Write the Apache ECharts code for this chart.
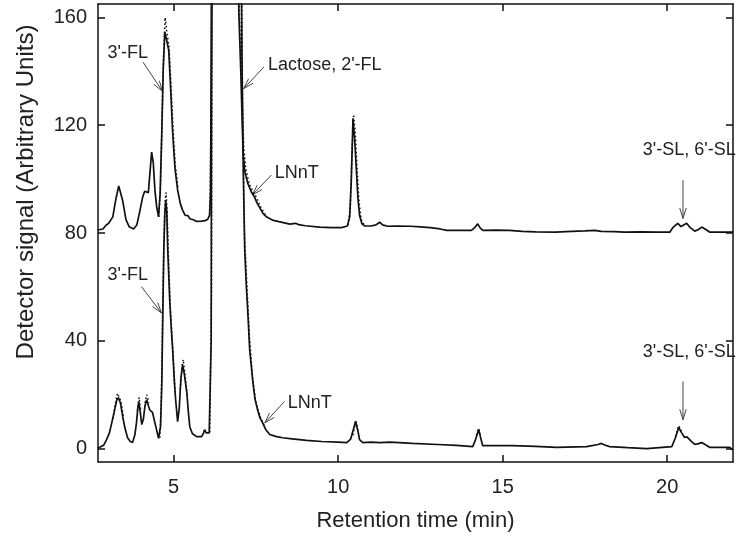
<!DOCTYPE html>
<html>
<head>
<meta charset="utf-8">
<script src="https://cdn.jsdelivr.net/npm/echarts@6/dist/echarts.min.js"></script>
<style>
  html, body { margin: 0; padding: 0; background: #fff; }
  #chart { width: 739px; height: 545px; }
</style>
</head>
<body>
<div id="chart"></div>
<script>
// retention time (min) / detector signal, upper trace (offset sample)
const upperTime = [2.69, 2.85, 2.95, 3.02, 3.08, 3.15, 3.25, 3.33, 3.38, 3.45, 3.55, 3.65, 3.78, 3.88, 3.97,
  4.06, 4.12, 4.18, 4.23, 4.27, 4.33, 4.38, 4.43, 4.48, 4.54, 4.59, 4.64, 4.68, 4.73, 4.78, 4.85, 4.91, 4.97,
  5.04, 5.12, 5.2, 5.27, 5.35, 5.43, 5.5, 5.58, 5.7, 5.85, 5.95, 6.03, 6.09, 6.12, 6.14, 6.16, 6.95, 6.98,
  7.04, 7.08, 7.11, 7.16, 7.25, 7.37, 7.45, 7.52, 7.61, 7.72, 7.83, 8.0, 8.2, 8.53, 8.7, 8.8, 9.0, 9.44, 9.8,
  10.1, 10.28, 10.35, 10.4, 10.45, 10.5, 10.55, 10.6, 10.65, 10.72, 10.8, 11.0, 11.15, 11.26, 11.35, 11.5,
  11.8, 12.2, 12.5, 12.8, 13.1, 13.3, 13.7, 14.05, 14.15, 14.24, 14.32, 14.4, 14.8, 15.2, 15.6, 16.0, 16.6,
  17.1, 17.5, 17.8, 18.0, 18.4, 18.7, 19.2, 19.7, 20.08, 20.17, 20.32, 20.42, 20.47, 20.59, 20.7, 20.84,
  20.95, 21.05, 21.15, 21.3, 21.6, 22.0];
const upperSignal = [81.1, 81.5, 83, 83.5, 83, 86, 93, 97.5, 97.5, 92, 85, 82.3, 81.5, 83, 88,
  93.5, 95.5, 96, 95, 101, 110, 106, 96, 90, 86, 95, 118, 140, 154.6, 152, 147.8, 133, 117,
  104, 96, 91, 88.5, 86.5, 86.5, 85.2, 85, 84.3, 84.4, 84.6, 85, 86.5, 95, 140, 200, 200, 162,
  140, 122, 110, 103, 98.5, 95, 93.5, 91.5, 89.5, 87.2, 85.9, 84.8, 84.2, 83.3, 83.6, 83.1, 82.7, 82.2, 82,
  82, 82.6, 86, 100, 122.6, 115, 104, 93, 86.5, 83.5, 82.6, 82.6, 83, 84, 83, 82.5,
  82.6, 82.5, 82.3, 82, 81.5, 81, 81, 81, 82, 83.4, 81.8, 81, 81.1, 81, 80.6, 80.4, 80.3,
  80.6, 80.8, 81, 80.6, 80.5, 80.3, 80.4, 80.3, 80.3, 82, 83.6, 82.4, 82.2, 83.6, 82, 80.7,
  81.3, 82.2, 81.5, 80.3, 80.3, 80.3];

// second run of the upper sample (dotted), only where it parts from the first; null = gap
const upperRepTime = [4.55, 4.6, 4.65, 4.69, 4.74, 4.79, 4.86, 4.92, 4.98, 5.05, 5.13, 5.14,
  6.1, 6.14, 6.17, 6.5, 6.96, 6.99, 7.05, 7.09, 7.13, 7.19, 7.28, 7.4, 7.5, 7.65, 7.8, 7.81,
  10.3, 10.37, 10.42, 10.47, 10.52, 10.57, 10.63, 10.7, 10.8];
const upperRepSignal = [86, 98, 122, 145, 160, 155, 149, 135, 119, 105, 97, null,
  87, 125, 200, null, 200, 165, 142, 125, 112, 104, 99, 95.5, 93.5, 89.5, 86.5, null,
  83, 90, 110, 124, 117, 105, 92, 85, 82.8];

// lower trace
const lowerTime = [2.69, 2.75, 2.8, 2.87, 2.96, 3.04, 3.12, 3.2, 3.27, 3.32, 3.38, 3.45, 3.52, 3.6, 3.68,
  3.75, 3.82, 3.87, 3.91, 3.94, 3.98, 4.03, 4.08, 4.13, 4.18, 4.23, 4.27, 4.32, 4.36, 4.42, 4.48, 4.54,
  4.57, 4.6, 4.64, 4.67, 4.7, 4.73, 4.76, 4.79, 4.82, 4.88, 4.93, 4.97, 5.02, 5.06, 5.12, 5.17, 5.22,
  5.27, 5.32, 5.4, 5.45, 5.49, 5.57, 5.7, 5.85, 5.9, 5.94, 5.99, 6.03, 6.08, 6.12, 6.14, 6.16, 7.04,
  7.08, 7.12, 7.16, 7.21, 7.26, 7.31, 7.41, 7.47, 7.55, 7.62, 7.7, 7.8, 7.92, 8.1, 8.31, 8.6, 9.04, 9.5,
  10.0, 10.26, 10.38, 10.46, 10.53, 10.6, 10.65, 10.75, 11.0, 11.26, 11.57, 12.26, 13.02, 13.6, 14.09,
  14.18, 14.27, 14.33, 14.39, 15.3, 16.0, 16.64, 17.55, 17.9, 18.0, 18.1, 18.25, 18.8, 19.38, 20.14,
  20.25, 20.35, 20.43, 20.53, 20.6, 20.65, 20.75, 20.84, 20.95, 21.05, 21.15, 21.3, 21.9, 22.0];
const lowerSignal = [0, -0.3, 0.8, 1.2, 3.3, 5.5, 9.6, 14, 18, 18.9, 17, 11.9, 7.5, 4, 2.6,
  2.2, 5, 9.6, 15, 17.4, 14, 8.9, 11, 16, 18.1, 16, 14.4, 14.5, 13.3, 10, 7, 3.8,
  3.3, 8, 24.4, 50.3, 73.7, 87, 92.2, 88, 73.7, 55, 44, 36.7, 25, 18.1, 10, 15, 26,
  31.1, 28, 20.7, 13, 8.1, 5.5, 4.4, 4.4, 5.5, 7, 5.8, 5.2, 5.8, 6.3, 40, 200, 200,
  140, 100, 73.7, 60, 49, 36.7, 24.4, 18.5, 14.4, 11.5, 9.6, 7, 5.2, 4.5, 4, 3.6, 3, 2.6,
  2.4, 2.2, 3.5, 7, 10, 6.5, 3.3, 2.2, 2.4, 2.2, 2.4, 1.9, 1.5, 1.2, 0.7,
  3.5, 7, 4, 1.1, 1.1, 0.8, 0.4, 0.7, 1.5, 1.9, 1.3, 0.7, 0.3, 0, 0.7,
  4, 7.8, 6, 4.1, 4.3, 4.1, 2.5, 1.5, 1.8, 2.2, 1.5, 0.4, 0.4, -0.5];

// second run of the lower sample (dotted)
const lowerRepTime = [3.15, 3.22, 3.29, 3.34, 3.4, 3.47, 3.48,
  3.9, 3.95, 4.0, 4.01, 4.13, 4.18, 4.25, 4.26,
  4.58, 4.62, 4.66, 4.7, 4.74, 4.77, 4.8, 4.84, 4.9, 4.98, 5.05, 5.06,
  5.2, 5.26, 5.29, 5.34, 5.42, 5.43,
  6.1, 6.15, 6.17, 6.5, 7.05, 7.1, 7.15, 7.22, 7.3, 7.4, 7.5, 7.62, 7.75, 7.76,
  10.45, 10.53, 10.6, 10.61, 14.2, 14.27, 14.33, 14.34, 20.25, 20.35, 20.43];
const lowerRepSignal = [11, 16, 20.5, 20.7, 17.5, 12, null,
  14, 19, 14, null, 17, 20, 17, null,
  4, 15, 45, 75, 92, 95, 88, 72, 52, 35, 20, null,
  22, 31, 33, 28, 19, null,
  6, 60, 200, null, 200, 120, 80, 62, 42, 26, 17, 12, 8.5, null,
  5, 10.5, 7, null, 5, 7.5, 4.5, null, 4.5, 8.5, 6.5];

const xTicks = [5, 10, 15, 20];
const yTicks = [0, 40, 80, 120, 160];

// peak labels: text, text anchor (t, v), arrow from (t, v) to (t, v)
const peakNotes = [
  { text: "3'-FL", at: [2.99, 146.7], from: [4.07, 143.4], to: [4.66, 132.6] },
  { text: "Lactose, 2'-FL", at: [7.87, 142.2], from: [7.74, 141.6], to: [7.13, 133.6] },
  { text: 'LNnT', at: [8.07, 102.1], from: [7.97, 101.5], to: [7.39, 94.1] },
  { text: "3'-SL, 6'-SL", at: [19.26, 110.7], from: [20.48, 99.6], to: [20.48, 85.4] },
  { text: "3'-FL", at: [2.99, 64.4], from: [4.02, 60.1], to: [4.63, 50.3] },
  { text: 'LNnT', at: [8.47, 16.9], from: [8.37, 17.5], to: [7.77, 9.5] },
  { text: "3'-SL, 6'-SL", at: [19.26, 35.9], from: [20.48, 24.9], to: [20.48, 10.7] }
];

const zip = (xs, ys) => xs.map((x, i) => [x, ys[i]]);

const FONT = '"Liberation Sans", Arial, sans-serif';
const chart = echarts.init(document.getElementById('chart'));

const frameAxis = {
  axisLine: { show: true, onZero: false, lineStyle: { color: '#111', width: 1.5 } },
  splitLine: { show: false }
};
const tickStyle = { color: '#111', width: 1.5 };

const traceLine = { color: '#111', width: 1.7 };
const repLine = { color: '#111', width: 1.5, type: [1.5, 2.5] };

const option = {
  animation: false,
  backgroundColor: '#fff',
  grid: { left: 98, right: 6, top: 4, bottom: 83 },
  xAxis: [
    Object.assign({
      type: 'value', min: 2.7, max: 22, position: 'bottom',
      name: 'Retention time (min)', nameLocation: 'middle', nameGap: 48,
      nameTextStyle: { fontFamily: FONT, fontSize: 22, color: '#222' },
      axisTick: { inside: true, length: 7, customValues: xTicks, lineStyle: tickStyle },
      axisLabel: { customValues: xTicks, margin: 15, fontFamily: FONT, fontSize: 20, color: '#222' }
    }, frameAxis),
    Object.assign({
      type: 'value', min: 2.7, max: 22, position: 'top',
      axisTick: { inside: true, length: 7, customValues: xTicks, lineStyle: tickStyle },
      axisLabel: { show: false }
    }, frameAxis)
  ],
  yAxis: [
    Object.assign({
      type: 'value', min: -5, max: 165, position: 'left',
      name: 'Detector signal (Arbitrary Units)', nameLocation: 'middle', nameGap: 60,
      nameTextStyle: { fontFamily: FONT, fontSize: 24, color: '#222', padding: [0, 0, 0, 82] },
      axisTick: { inside: true, length: 7, customValues: yTicks, lineStyle: tickStyle },
      axisLabel: { customValues: yTicks, margin: 11, fontFamily: FONT, fontSize: 20, color: '#222' }
    }, frameAxis),
    Object.assign({
      type: 'value', min: -5, max: 165, position: 'right',
      axisTick: { inside: true, length: 7, customValues: yTicks, lineStyle: tickStyle },
      axisLabel: { show: false }
    }, frameAxis)
  ],
  series: [
    { name: 'upper run 2', type: 'line', data: zip(upperRepTime, upperRepSignal), showSymbol: false, clip: true, lineStyle: repLine },
    { name: 'lower run 2', type: 'line', data: zip(lowerRepTime, lowerRepSignal), showSymbol: false, clip: true, lineStyle: repLine },
    { name: 'upper', type: 'line', data: zip(upperTime, upperSignal), showSymbol: false, clip: true, lineStyle: traceLine },
    { name: 'lower', type: 'line', data: zip(lowerTime, lowerSignal), showSymbol: false, clip: true, lineStyle: traceLine }
  ]
};

chart.setOption(option);

// draw peak labels and arrows at data positions
function arrowGraphics(note) {
  const p = chart.convertToPixel({ gridIndex: 0 }, note.at);
  const s = chart.convertToPixel({ gridIndex: 0 }, note.from);
  const e = chart.convertToPixel({ gridIndex: 0 }, note.to);
  const dx = e[0] - s[0], dy = e[1] - s[1];
  const len = Math.sqrt(dx * dx + dy * dy);
  const ux = dx / len, uy = dy / len;
  const head = 11, ang = 0.3;
  const h1 = [e[0] - head * (ux * Math.cos(ang) - uy * Math.sin(ang)), e[1] - head * (uy * Math.cos(ang) + ux * Math.sin(ang))];
  const h2 = [e[0] - head * (ux * Math.cos(ang) + uy * Math.sin(ang)), e[1] - head * (uy * Math.cos(ang) - ux * Math.sin(ang))];
  const stroke = { stroke: '#444', lineWidth: 1, fill: null };
  return [
    { type: 'text', style: { text: note.text, x: p[0], y: p[1], verticalAlign: 'middle', font: '18px ' + FONT, fill: '#222' } },
    { type: 'polyline', shape: { points: [s, e] }, style: stroke },
    { type: 'polyline', shape: { points: [h1, e, h2] }, style: stroke }
  ];
}

let elements = [];
peakNotes.forEach(n => { elements = elements.concat(arrowGraphics(n)); });
chart.setOption({ graphic: { elements: elements } });
</script>
</body>
</html>
